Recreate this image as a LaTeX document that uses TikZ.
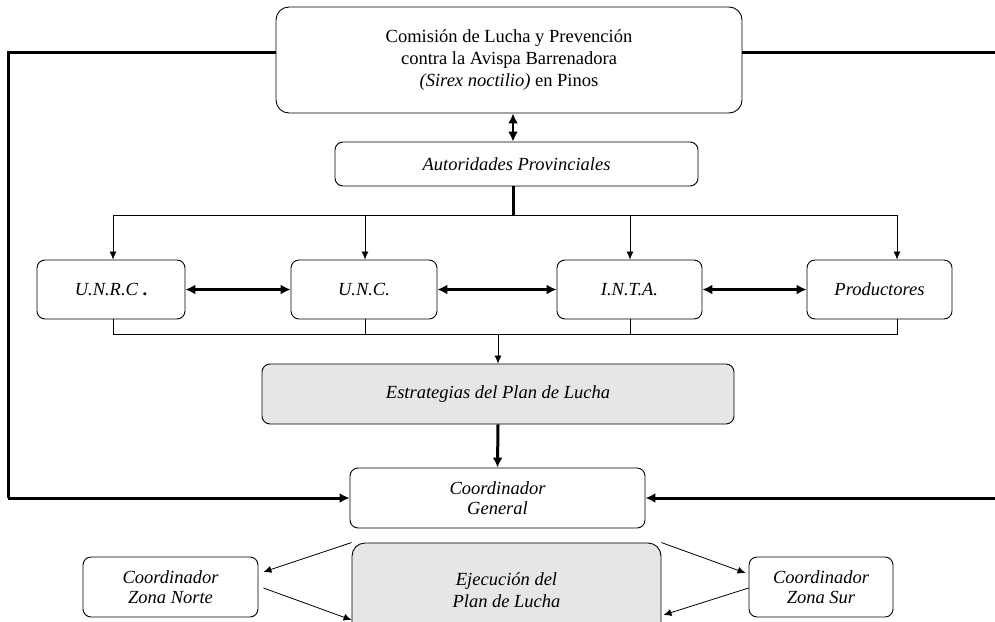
\documentclass[tikz,border=0pt]{standalone}
\usepackage{fontspec}
\setmainfont{Liberation Serif}
\usetikzlibrary{arrows.meta}
\definecolor{boxgray}{HTML}{E6E6E6}
\begin{document}
\begin{tikzpicture}[x=1pt,y=-1pt,
  box/.style={draw, line width=0.9pt, rounded corners=8pt, align=center, inner sep=0pt, font=\fontsize{18.5}{22}\selectfont},
  itbox/.style={box, font=\fontsize{18.5}{22}\selectfont\itshape},
  ittwo/.style={box, font=\fontsize{18.5}{19.5}\selectfont\itshape},
  bigbox/.style={box, rounded corners=13pt},
  grayfill/.style={fill=boxgray},
  thickarrow/.style={line width=3pt, -{Latex[length=10pt,width=10pt]}},
  thickline/.style={line width=3pt},
  thinarrow/.style={line width=0.8pt, -{Latex[length=8pt,width=7pt]}},
  thinline/.style={line width=0.8pt},
  dblarrow/.style={line width=2.4pt, {Latex[length=10pt,width=10pt]}-{Latex[length=10pt,width=10pt]}}
]
\useasboundingbox (0,0) rectangle (995,621);
\fill[white] (0,0) rectangle (995,621);

\node[bigbox, minimum width=466pt, minimum height=106pt] (com) at (509,60)
  {Comisión de Lucha y Prevención\\contra la Avispa Barrenadora\\\textit{(Sirex noctilio)} en Pinos};
\node[itbox, minimum width=363pt, minimum height=44pt] (aut) at (516.5,164) {Autoridades Provinciales};

\node[itbox, minimum width=148pt, minimum height=59pt] (unrc) at (111,289.5) {U.N.R.C {\upshape\bfseries .}};
\node[itbox, minimum width=146pt, minimum height=59pt] (unc) at (364,289.5) {U.N.C.};
\node[itbox, minimum width=145pt, minimum height=59pt] (inta) at (629.5,289.5) {I.N.T.A.};
\node[itbox, minimum width=145pt, minimum height=59pt] (prod) at (879.5,289.5) {Productores};

\node[itbox, grayfill, minimum width=472pt, minimum height=60pt] (est) at (498,394) {Estrategias del Plan de Lucha};
\node[ittwo, minimum width=295pt, minimum height=60pt] (cg) at (497.5,498) {Coordinador\\General};
\node[ittwo, bigbox, grayfill, minimum width=309pt, minimum height=94pt, font=\fontsize{18.5}{22}\selectfont\itshape] (ejec) at (506.5,590) {Ejecución del\\Plan de Lucha};
\node[ittwo, minimum width=175pt, minimum height=60pt] (norte) at (170.5,587) {Coordinador\\Zona Norte};
\node[ittwo, minimum width=144pt, minimum height=60pt] (sur) at (821,587) {Coordinador\\Zona Sur};

% outer thick loop
\coordinate (lc) at (8,498);
\coordinate (rtop) at (997,52);
\coordinate (rbot) at (997,498);
\draw[thickline] ([yshift=8pt]com.west) -| (lc);
\draw[thickarrow] (lc) -- (cg.west);
\draw[thickline] ([yshift=8pt]com.east) -- (rtop);
\draw[thickarrow] (rbot) -- (cg.east);

% commission <-> authorities
\draw[dblarrow] ([xshift=4pt]com.south) -- ([xshift=-3.5pt]aut.north);

% distribution bus
\coordinate (bus) at (513,215);
\coordinate (t1) at (113,215);
\coordinate (t2) at (365,215);
\coordinate (t3) at (630,215);
\coordinate (t4) at (897,215);
\draw[thickline] ([xshift=-3.5pt]aut.south) -- (bus);
\draw[thinline] (t1) -- (t4);
\draw[thinarrow] (t1) -- (t1 |- unrc.north);
\draw[thinarrow] (t2) -- (t2 |- unc.north);
\draw[thinarrow] (t3) -- (t3 |- inta.north);
\draw[thinarrow] (t4) -- (t4 |- prod.north);

% horizontal links
\draw[dblarrow] (unrc.east) -- (unc.west);
\draw[dblarrow] (unc.east) -- (inta.west);
\draw[dblarrow] (inta.east) -- (prod.west);

% collecting bus
\coordinate (b1) at (113,334);
\coordinate (b2) at (365,334);
\coordinate (b3) at (630,334);
\coordinate (b4) at (897,334);
\coordinate (bm) at (498,334);
\draw[thinline] (b1 |- unrc.south) -- (b1) -- (b4) -- (b4 |- prod.south);
\draw[thinline] (b2 |- unc.south) -- (b2);
\draw[thinline] (b3 |- inta.south) -- (b3);
\draw[thinarrow] (bm) -- (est.north);

\draw[thickarrow] (est.south) -- (cg.north);

% execution links
\draw[thinarrow] (ejec.north west) -- ([xshift=5pt,yshift=15pt]norte.east);
\draw[thinarrow] ([xshift=5pt,yshift=-1pt]norte.east) -- ([yshift=-30pt]ejec.west);
\draw[thinarrow] (ejec.north east) -- ([xshift=-3pt,yshift=14pt]sur.west);
\draw[thinarrow] ([yshift=-1pt]sur.west) -- ([xshift=2pt,yshift=-25pt]ejec.east);
\end{tikzpicture}
\end{document}
